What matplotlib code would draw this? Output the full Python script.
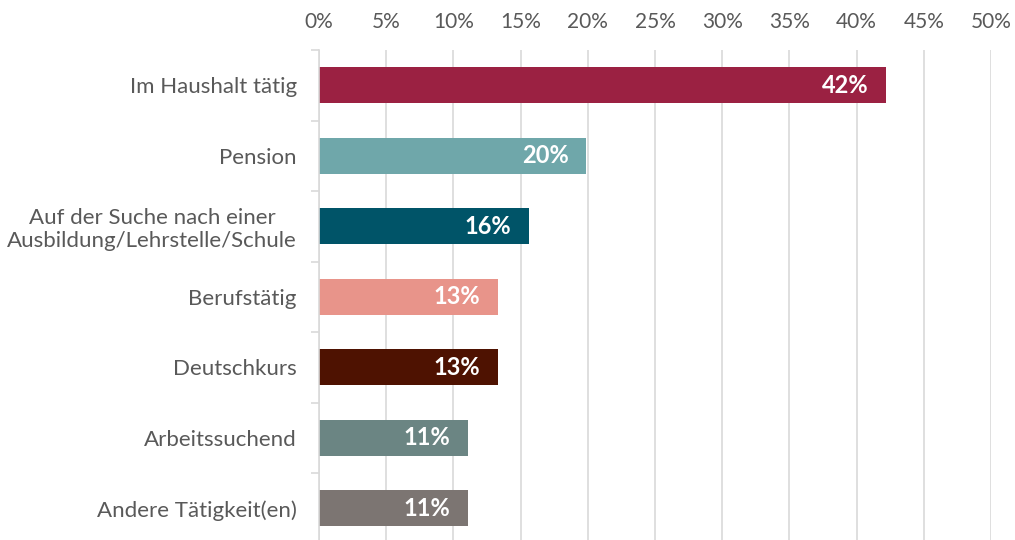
import matplotlib
matplotlib.use("Agg")
import matplotlib.pyplot as plt
from matplotlib.ticker import FixedLocator, FuncFormatter

categories = ["Im Haushalt tätig", "Pension",
              "Auf der Suche nach einer\nAusbildung/Lehrstelle/Schule",
              "Berufstätig", "Deutschkurs", "Arbeitssuchend", "Andere Tätigkeit(en)"]
values = [42.2, 19.9, 15.6, 13.3, 13.3, 11.1, 11.1]
labels = ["42%", "20%", "16%", "13%", "13%", "11%", "11%"]
colors = ["#9B2142", "#6FA7AA", "#005468", "#E8948A", "#4E1201", "#6B8583", "#7C7572"]
xticks = list(range(0, 51, 5))

plt.rcParams['font.family'] = ['Lato', 'DejaVu Sans']
textc = "#595959"

fig = plt.figure(figsize=(10.15, 5.4), dpi=100)
ax = fig.add_axes([319/1015, -3.5/540, (991-319)/1015, (543.5-50)/540])

ypos = list(range(len(categories)))
ax.barh(ypos, values, height=0.51, color=colors, zorder=3)
ax.set_ylim(len(categories) - 0.5, -0.5)
ax.set_xlim(0, 50)

for y, v, lab in zip(ypos, values, labels):
    ax.text(v - 1.3, y, lab, ha="right", va="center", color="white",
            fontsize=17, fontweight="bold", zorder=4)

ax.xaxis.tick_top()
ax.set_xticks(xticks)
ax.xaxis.set_major_formatter(FuncFormatter(lambda x, p: f"{int(x)}%"))
ax.tick_params(axis="x", length=0, pad=13, labelsize=15, labelcolor=textc)
ax.grid(axis="x", color="#D9D9D9", linewidth=1.2, zorder=0)

ax.set_yticks(ypos)
ax.set_yticklabels(categories, fontsize=16, color=textc, linespacing=1.2)
ax.tick_params(axis="y", which="major", length=0, pad=16)
ax.yaxis.set_minor_locator(FixedLocator([i - 0.5 for i in range(len(categories) + 1)]))
ax.tick_params(axis="y", which="minor", length=6, color="#D9D9D9", width=1.2)
for lab in ax.get_yticklabels():
    lab.set_horizontalalignment("right")
    lab.set_multialignment("center")

for s in ["top", "right", "bottom"]:
    ax.spines[s].set_visible(False)
ax.spines["left"].set_color("#D9D9D9")
ax.spines["left"].set_linewidth(1.2)
ax.spines["left"].set_zorder(5)

fig.savefig("out.png", dpi=100, facecolor="white")
